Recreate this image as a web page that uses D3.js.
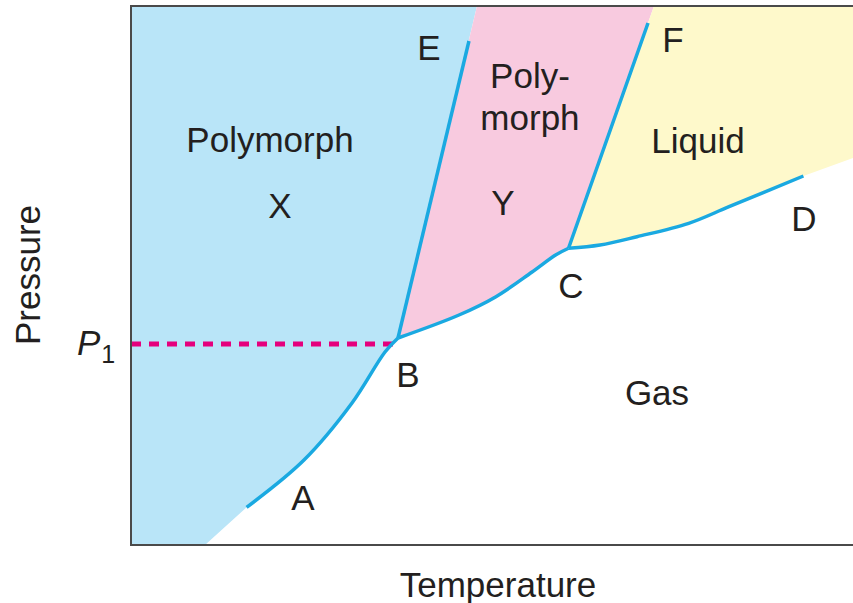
<!DOCTYPE html>
<meta charset="utf-8">
<script src="https://cdn.jsdelivr.net/npm/d3@7"></script>
<style>
body{margin: 0; background: #fff;}
text {font-family: "Liberation Sans", Arial, sans-serif; fill: #231f20;}
.lbl {font-size: 35px; text-anchor: middle;}
.curve {fill: none; stroke: #1aa9e1; stroke-width: 3.5px; stroke-linecap: butt;}
.frame {stroke: #4a4a4a; stroke-width: 2px;}
</style>

<div id="vis"></div>

<script>

// Width, height and plot box
const w = 853, h = 603
const margin = {top: 6, right: 0, bottom: 58, left: 131};

// Phase boundaries (temperature, pressure), arbitrary 0-100 units
const lineBE = [[36.98, 38.40], [46.81, 93.51]];
const lineCF = [[60.60, 55.05], [71.61, 96.85]];
const curveAB = [[16.01, 6.99], [23.96, 15.77], [30.61, 26.35], [35.18, 35.81], [36.98, 38.40]];
const curveBC = [[36.98, 38.40], [45.43, 42.67], [50.55, 46.07], [55.50, 50.60],
                 [58.81, 53.80], [60.60, 55.05]];
const curveCD = [[60.60, 55.05], [64.96, 55.66], [70.08, 57.20], [77.24, 59.68],
                 [82.83, 62.76], [93.13, 68.46]];

// Where the coloured fields meet the frame
const blueTop = 47.92, pinkTop = 72.44;
const blueFoot = 10.25;       // blue field reaches the bottom axis
const yellowRight = 71.80;    // yellow field at the right edge

const P1 = 37.29, P1end = 36.7;

const labels = [
  {t: "Polymorph", x: 19.25, y: 72.91},
  {t: "X", x: 20.64, y: 60.67},
  {t: "E", x: 41.27, y: 89.98},
  {t: "Poly-", x: 55.26, y: 84.79},
  {t: "morph", x: 55.26, y: 77.00},
  {t: "Y", x: 51.52, y: 61.22},
  {t: "F", x: 75.07, y: 91.47},
  {t: "Liquid", x: 78.53, y: 72.73},
  {t: "D", x: 93.21, y: 58.26},
  {t: "C", x: 60.94, y: 45.83},
  {t: "B", x: 38.37, y: 29.31},
  {t: "A", x: 23.82, y: 6.49},
  {t: "Gas", x: 72.85, y: 25.97}
];

let svg = d3.select("#vis")
            .append("svg")
            .attr("width", w)
            .attr("height", h);

let x = d3.scaleLinear().domain([0, 100]).range([margin.left, w - margin.right]);
let y = d3.scaleLinear().domain([0, 100]).range([h - margin.bottom, margin.top]);

let smooth = d3.line().x(d => x(d[0])).y(d => y(d[1])).curve(d3.curveCatmullRom.alpha(0.5));
let straight = d3.line().x(d => x(d[0])).y(d => y(d[1]));

// join a smoothed piece onto an open path
const cont = pts => smooth(pts).replace(/^M/, "L");
const rev = a => a.slice().reverse();

// coloured fields
let blue = straight([[0, 100], [blueTop, 100], lineBE[0]]) + cont(rev(curveAB))
         + straight([curveAB[0], [blueFoot, 0], [0, 0]]).replace(/^M/, "L") + "Z";
let pink = straight([[blueTop, 100], [pinkTop, 100], lineCF[0]]) + cont(rev(curveBC)) + "Z";
let yellow = straight([[pinkTop, 100], [100, 100], [100, yellowRight], curveCD[curveCD.length - 1]])
           + cont(rev(curveCD)) + "Z";

svg.append("path").attr("d", blue).attr("fill", "#b9e5f8");
svg.append("path").attr("d", pink).attr("fill", "#f8cadf");
svg.append("path").attr("d", yellow).attr("fill", "#fef9cb");

// P1 dashed line
svg.append("line")
    .attr("x1", x(0)).attr("x2", x(P1end))
    .attr("y1", y(P1)).attr("y2", y(P1))
    .attr("stroke", "#e5007d")
    .attr("stroke-width", 5)
    .attr("stroke-dasharray", "10,8");

// boundaries
[curveAB, curveBC, curveCD].forEach(c =>
  svg.append("path").attr("class", "curve").attr("d", smooth(c)));
[lineBE, lineCF].forEach(c =>
  svg.append("path").attr("class", "curve").attr("d", straight(c)));

// frame: left, top, bottom
svg.append("path").attr("class", "frame").attr("fill", "none")
    .attr("d", straight([[100, 100], [0, 100], [0, 0], [100, 0]]));

// region and point labels
svg.selectAll(".lbl")
  .data(labels)
  .enter().append("text")
    .attr("class", "lbl")
    .attr("x", d => x(d.x))
    .attr("y", d => y(d.y))
    .text(d => d.t);

// axis titles
svg.append("text")
    .attr("class", "lbl")
    .attr("x", 498).attr("y", 597)
    .text("Temperature");

svg.append("text")
    .attr("class", "lbl")
    .attr("transform", "translate(40,275) rotate(-90)")
    .text("Pressure");

let p1 = svg.append("text")
    .attr("x", 77).attr("y", y(P1) + 11)
    .style("font-size", "35px");
p1.append("tspan").style("font-style", "italic").text("P");
p1.append("tspan").attr("dy", 8).attr("dx", 1).style("font-size", "25px").text("1");

</script>
